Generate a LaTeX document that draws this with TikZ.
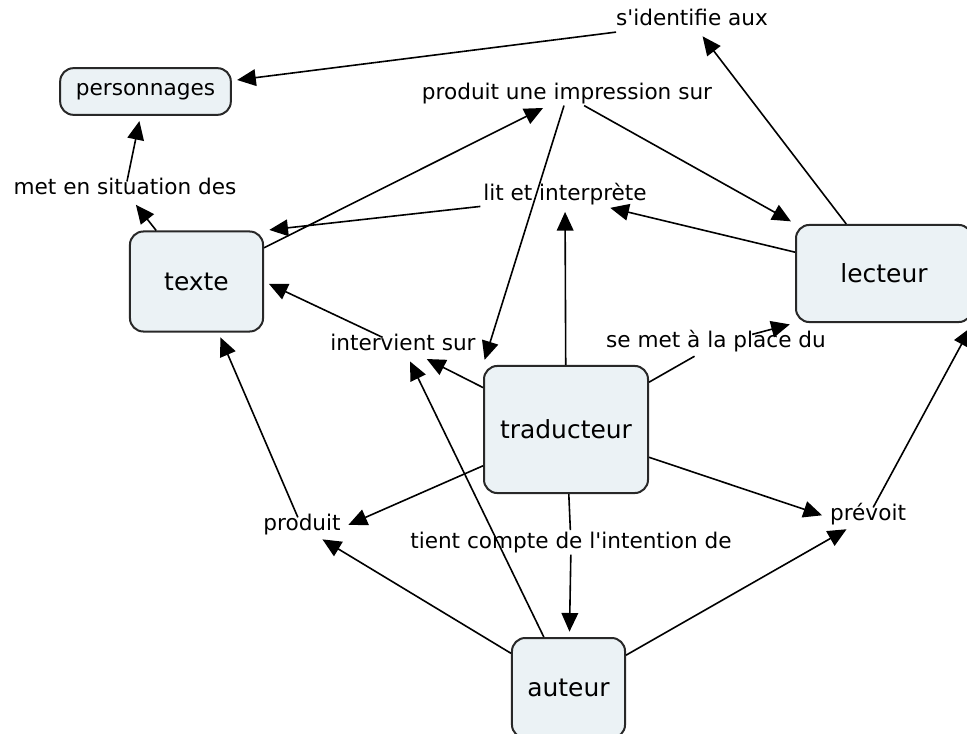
\documentclass[tikz,border=0pt]{standalone}
\usepackage{fontspec}
\setmainfont{DejaVu Sans}
\usetikzlibrary{arrows.meta}
\definecolor{conceptfill}{RGB}{235,242,245}
\definecolor{conceptline}{RGB}{40,40,40}
\begin{document}
\begin{tikzpicture}[x=0.75pt,y=-0.75pt,
  concept/.style={draw=conceptline,fill=conceptfill,line width=1.5pt,rounded corners=10pt,
    inner sep=0pt,font=\fontsize{18.7}{22}\selectfont},
  phrase/.style={inner sep=2pt,text height=.76em,text depth=.24em,font=\fontsize{16.2}{19}\selectfont},
  >={Triangle[length=14pt,width=12.5pt]},
  every edge/.append style={line width=1.2pt,shorten >=4pt}]
\useasboundingbox (0,0) rectangle (967,734);
% concepts
\node [concept,minimum width=128pt,minimum height=35pt,font=\fontsize{16.2}{19}\selectfont] (v0) at (145.5,91.5) {personnages};
\node [concept,minimum width=99.8pt,minimum height=75pt] (v1) at (196.5,281.5) {texte};
\node [concept,minimum width=132pt,minimum height=72.8pt] (v2) at (884,273.5) {lecteur};
\node [concept,minimum width=123pt,minimum height=95.3pt] (v3) at (566,429.5) {traducteur};
\node [concept,minimum width=84.8pt,minimum height=75pt] (v4) at (568.5,688) {auteur};
% linking phrases
\node [phrase] (v5) at (692,22.5) {s\textquotesingle identifie aux};
\node [phrase] (v6) at (567,96) {produit une impression sur};
\node [phrase] (v7) at (125,191) {met en situation des};
\node [phrase] (v8) at (565,197) {lit et interprète};
\node [phrase] (v9) at (403,347) {intervient sur};
\node [phrase] (v10) at (716,344) {se met à la place du};
\node [phrase] (v11) at (302,527) {produit};
\node [phrase] (v12) at (571,545) {tient compte de l\textquotesingle intention de};
\node [phrase] (v13) at (868,517) {prévoit};
% links
\draw [->] (v2) edge (v5);
\draw [->] (v5) edge (v0);
\draw [->] (v1) edge (v6);
\draw [->] (v6) edge (v2);
\draw [->] (v6) edge (v3.north west);
\draw [->] (v3) edge (v8);
\draw [->] (v2) edge (v8);
\draw [->] (v8) edge (v1.north east);
\draw [->] (v1) edge (v7);
\draw [->] (v7) edge (v0);
\draw [->] (v3) edge (v9);
\draw [->] (v9) edge (v1.east);
\draw [->] (v4) edge (v9);
\draw (v3) edge (v10);
\draw [->] (v10) edge (v2.south west);
\draw [->] (v3) edge (v11.east);
\draw [->] (v4) edge (v11);
\draw [->] (v11) edge (v1);
\draw (v3) edge (v12);
\draw [->] (v12) edge (v4);
\draw [->] (v3) edge (v13.west);
\draw [->] (v4) edge (v13);
\draw [->] (v13) edge (v2.south east);
\end{tikzpicture}
\end{document}
